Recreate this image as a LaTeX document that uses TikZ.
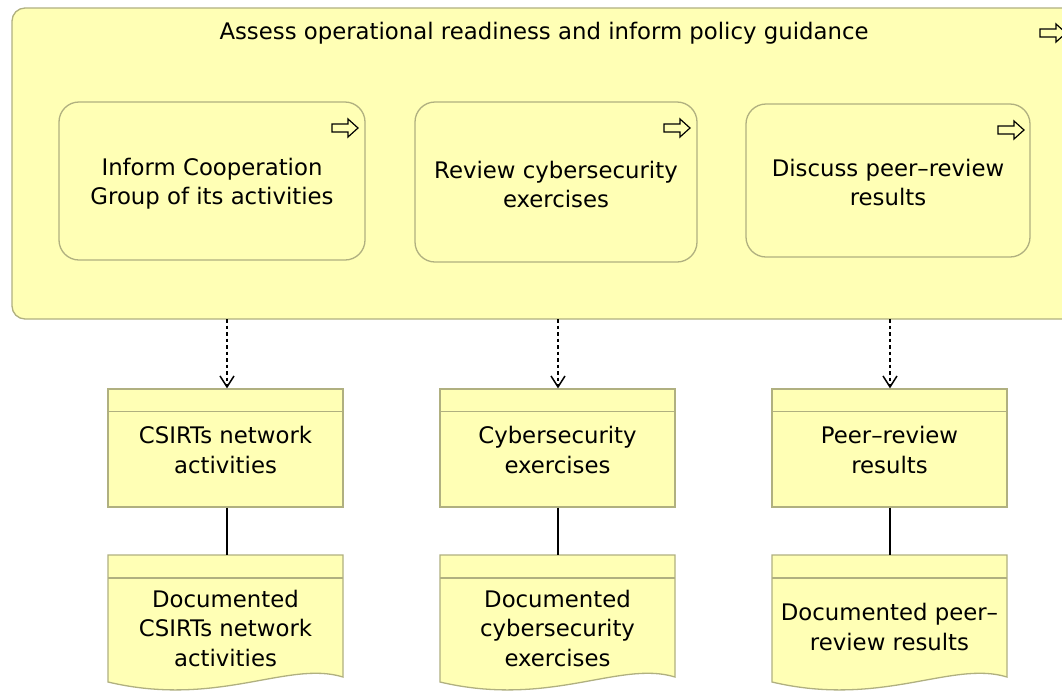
\documentclass[tikz,border=0pt]{standalone}
\usepackage{fontspec}
\setmainfont{DejaVu Sans}
\usetikzlibrary{arrows.meta}
\definecolor{boxfill}{RGB}{255,255,181}
\definecolor{boxline}{RGB}{176,176,128}
\tikzset{
  txt/.style={font=\fontsize{22.8}{29.5}\selectfont, align=center, text=black},
  container/.style={draw=boxline, fill=boxfill, line width=1.3pt, rounded corners=13pt},
  procbox/.style={draw=boxline, fill=boxfill, line width=1.3pt, rounded corners=20pt, inner sep=0pt},
  databox/.style={draw=boxline, fill=boxfill, line width=1.3pt, minimum width=235pt, minimum height=118pt, inner sep=0pt},
  docshape/.style={draw=boxline, fill=boxfill, line width=1.3pt},
  icon/.style={draw=black, fill=boxfill, line width=1.2pt, line join=miter},
  flowline/.style={draw=black, line width=1.5pt},
  access/.style={draw=black, line width=1.5pt, dash pattern=on 3.5pt off 3pt, -{Straight Barb[length=11pt,width=14pt]}},
}
\newcommand{\procicon}[2]{%
  \draw[icon] (#1-13,#2-4) -- (#1+3,#2-4) -- (#1+3,#2-9) -- (#1+13,#2) -- (#1+3,#2+9) -- (#1+3,#2+4) -- (#1-13,#2+4) -- cycle;}
\begin{document}
\begin{tikzpicture}[x=1pt,y=-1pt]
\clip (0,0) rectangle (1062,694);
\fill[white] (0,0) rectangle (1062,694);
% container
\node[container, minimum width=1070pt, minimum height=311pt, inner sep=0pt] (main) at (547,163.5) {};
\node[txt, anchor=center] (title) at (544,33) {Assess operational readiness and inform policy guidance};
\procicon{1053}{33}
% processes
\node[procbox, minimum width=306pt, minimum height=158pt] (p1) at (212,181) {};
\node[procbox, minimum width=282pt, minimum height=160pt] (p2) at (556,182) {};
\node[procbox, minimum width=284pt, minimum height=153pt] (p3) at (888,180.5) {};
\node[txt] (p1t) at ([yshift=-2.5pt]p1.center) {Inform Cooperation\\Group of its activities};
\node[txt] (p2t) at ([yshift=-2.5pt]p2.center) {Review cybersecurity\\exercises};
\node[txt] (p3t) at ([yshift=-2pt]p3.center) {Discuss peer–review\\results};
\procicon{345}{128}
\procicon{677}{128}
\procicon{1011}{130}
% data objects
\node[databox] (d1) at (225.5,448) {};
\node[databox] (d2) at (557.5,448) {};
\node[databox] (d3) at (889.5,448) {};
\node[txt] (d1t) at ([yshift=-2pt]d1.center) {CSIRTs network\\activities};
\node[txt] (d2t) at ([yshift=-2pt]d2.center) {Cybersecurity\\exercises};
\node[txt] (d3t) at ([yshift=-2pt]d3.center) {Peer–review\\results};
\foreach \n in {d1,d2,d3}{
  \draw[boxline, line width=1.3pt] ([yshift=-23pt]\n.north west) -- ([yshift=-23pt]\n.north east);
}
% documents
\foreach \x/\n in {108/1,440/2,772/3}{
  \draw[docshape] (\x,555) -- (\x+235,555) -- (\x+235,677)
     .. controls (\x+180,660) and (\x+110,708) .. (\x,682) -- cycle;
  \draw[boxline, line width=1.3pt] (\x,578) -- (\x+235,578);
  \coordinate (doctop\n) at (\x+117.5,555);
}
\node[txt] (doc1) at (225.5,628) {Documented\\CSIRTs network\\activities};
\node[txt] (doc2) at (557.5,628) {Documented\\cybersecurity\\exercises};
\node[txt] (doc3) at (889.5,627) {Documented peer–\\review results};
% connectors
\coordinate (a1) at (227,319);
\coordinate (a2) at (558,319);
\coordinate (a3) at (890,319);
\draw[access] (a1) -- (a1 |- d1.north);
\draw[access] (a2) -- (a2 |- d2.north);
\draw[access] (a3) -- (a3 |- d3.north);
\draw[flowline] (d1.south -| a1) -- (doctop1 -| a1);
\draw[flowline] (d2.south -| a2) -- (doctop2 -| a2);
\draw[flowline] (d3.south -| a3) -- (doctop3 -| a3);
\end{tikzpicture}
\end{document}
